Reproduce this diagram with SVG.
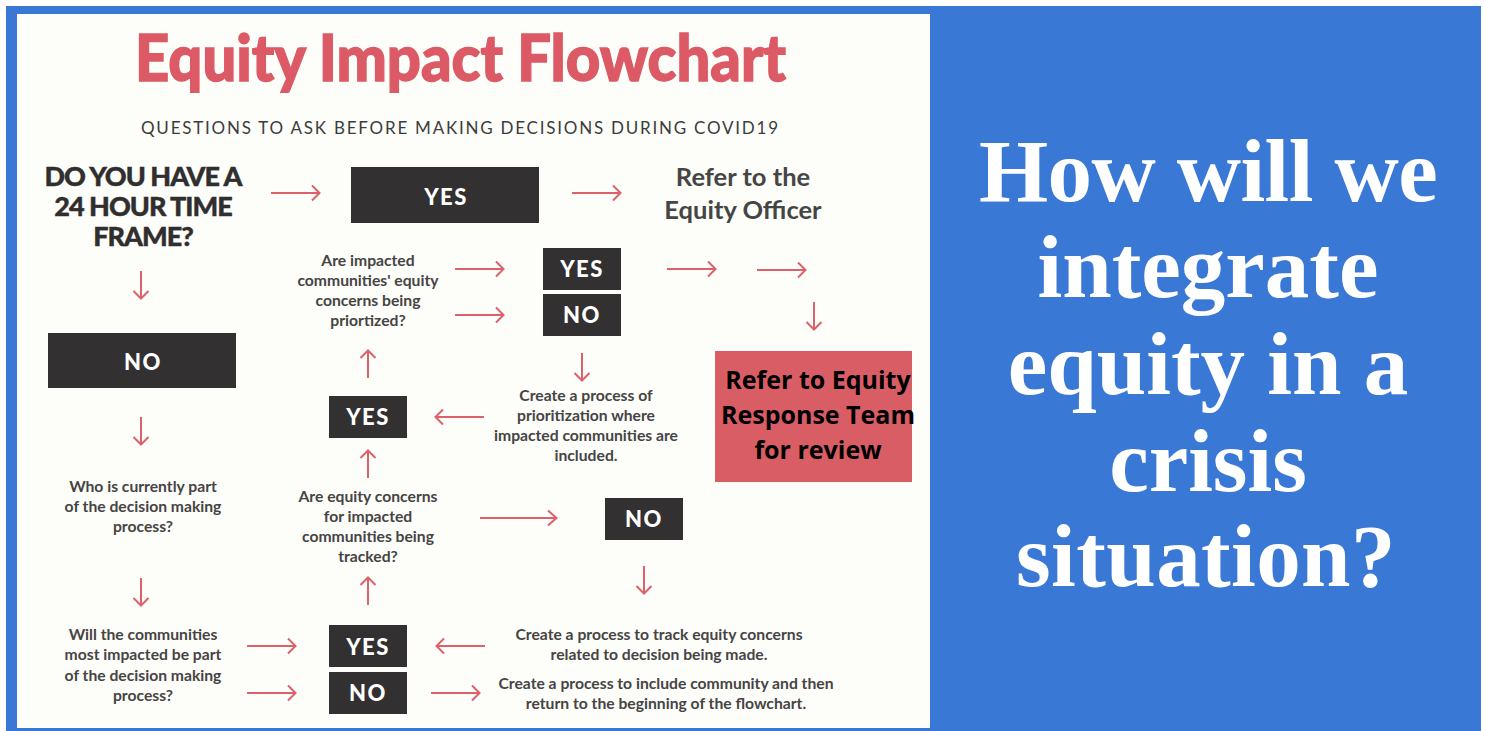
<svg xmlns="http://www.w3.org/2000/svg" width="1485" height="731" viewBox="0 0 1485 731">
<style>
text{text-anchor:middle;font-family:"Lato","Liberation Sans",sans-serif}
.t{font-weight:700;font-size:15.7px;fill:#464444}
.b{fill:#333031}
.bl{font-weight:900;fill:#fff;font-size:22px;letter-spacing:1.5px}
.h{font-weight:900;font-size:27px;fill:#302e2f;letter-spacing:-1px;stroke:#302e2f;stroke-width:.4px}
.r{font-weight:700;font-size:25.500px;fill:#454546}
.e{font-family:"Open Sans","Noto Sans",sans-serif;font-weight:700;font-size:25px;fill:#000}
.q{font-family:"Liberation Serif",serif;font-weight:700;font-size:89px;fill:#fff}
.c{fill:none;stroke:#dc616a;stroke-width:2}
</style>
<defs>
<path id="ar" d="M0 0H48M41 -7.500L48.500 0L41 7.500"/>
<path id="av" d="M0 0H27M20 -7.500L27.500 0L20 7.500"/>
</defs>
<rect width="1485" height="731" fill="#fff"/>
<rect x="6" y="6" width="1475" height="725" fill="#3a78d6"/>
<rect x="17" y="14" width="913" height="714" fill="#fdfdf9"/>
<g id="title">
<text x="460.500" y="81" font-size="64" font-weight="900" fill="#dc5a65" stroke="#dc5a65" stroke-width="1.400" textLength="651" lengthAdjust="spacingAndGlyphs">Equity Impact Flowchart</text>
<text x="459.500" y="134" font-size="17" font-weight="400" fill="#3c3c3c" textLength="637" lengthAdjust="spacing">QUESTIONS TO ASK BEFORE MAKING DECISIONS DURING COVID19</text>
</g>
<g id="connectors" class="c">
<use href="#ar" transform="translate(271 193)"/>
<use href="#ar" transform="translate(572 193)"/>
<use href="#ar" transform="translate(455 269)"/>
<use href="#ar" transform="translate(455 315)"/>
<use href="#ar" transform="translate(667 269)"/>
<use href="#ar" transform="translate(757 270)"/>
<use href="#av" transform="translate(814 302) rotate(90)"/>
<use href="#av" transform="translate(141 271) rotate(90)"/>
<use href="#av" transform="translate(141 417) rotate(90)"/>
<use href="#av" transform="translate(141 578) rotate(90)"/>
<use href="#av" transform="translate(582 353) rotate(90)"/>
<use href="#av" transform="translate(644 566) rotate(90)"/>
<use href="#av" transform="translate(368 378) rotate(-90)"/>
<use href="#av" transform="translate(368 478) rotate(-90)"/>
<use href="#av" transform="translate(368 605) rotate(-90)"/>
<use href="#ar" transform="translate(484 417) rotate(180)"/>
<use href="#ar" transform="translate(485 646) rotate(180)"/>
<path d="M480 518H556M548 510.500L556.500 518L548 525.500"/>
<use href="#ar" transform="translate(247 646)"/>
<use href="#ar" transform="translate(247 693)"/>
<use href="#ar" transform="translate(431 693)"/>
</g>
<g id="q-24h"><text class="h"><tspan x="143" y="186">DO YOU HAVE A</tspan><tspan x="143" y="216">24 HOUR TIME</tspan><tspan x="143" y="246">FRAME?</tspan></text></g>
<g id="yes-top"><rect class="b" x="351" y="167" width="188" height="56"/><text class="bl" x="446" y="205">YES</text></g>
<g id="refer-officer"><text class="r"><tspan x="743" y="186">Refer to the</tspan><tspan x="743" y="219">Equity Officer</tspan></text></g>
<g id="q-prioritized"><text class="t"><tspan x="368" y="266">Are impacted</tspan><tspan x="368" y="286">communities' equity</tspan><tspan x="368" y="306">concerns being</tspan><tspan x="368" y="326">priortized?</tspan></text></g>
<g id="yes-prioritized"><rect class="b" x="543" y="248" width="78" height="42"/><text class="bl" x="582" y="277">YES</text></g>
<g id="no-prioritized"><rect class="b" x="543" y="294" width="78" height="42"/><text class="bl" x="582" y="323">NO</text></g>
<g id="no-24h"><rect class="b" x="48" y="333" width="188" height="55"/><text class="bl" x="143" y="370">NO</text></g>
<g id="refer-team"><rect x="715" y="351" width="197" height="131" fill="#d95d65"/><text class="e"><tspan x="818" y="389">Refer to Equity</tspan><tspan x="818" y="424">Response Team</tspan><tspan x="818" y="459">for review</tspan></text></g>
<g id="yes-middle"><rect class="b" x="329" y="396" width="78" height="42"/><text class="bl" x="368" y="425">YES</text></g>
<g id="create-prioritization"><text class="t"><tspan x="586" y="401">Create a process of</tspan><tspan x="586" y="421">prioritization where</tspan><tspan x="586" y="441">impacted communities are</tspan><tspan x="586" y="461">included.</tspan></text></g>
<g id="q-who"><text class="t"><tspan x="143" y="492">Who is currently part</tspan><tspan x="143" y="512">of the decision making</tspan><tspan x="143" y="532">process?</tspan></text></g>
<g id="q-tracked"><text class="t"><tspan x="368" y="502">Are equity concerns</tspan><tspan x="368" y="522">for impacted</tspan><tspan x="368" y="542">communities being</tspan><tspan x="368" y="562">tracked?</tspan></text></g>
<g id="no-tracked"><rect class="b" x="605" y="498" width="78" height="42"/><text class="bl" x="644" y="527">NO</text></g>
<g id="q-impacted"><text class="t"><tspan x="143" y="640">Will the communities</tspan><tspan x="143" y="660">most impacted be part</tspan><tspan x="143" y="681">of the decision making</tspan><tspan x="143" y="701">process?</tspan></text></g>
<g id="yes-bottom"><rect class="b" x="329" y="625" width="78" height="42"/><text class="bl" x="368" y="655">YES</text></g>
<g id="no-bottom"><rect class="b" x="329" y="672" width="78" height="42"/><text class="bl" x="368" y="701">NO</text></g>
<g id="create-track"><text class="t"><tspan x="659" y="640">Create a process to track equity concerns</tspan><tspan x="659" y="660">related to decision being made.</tspan></text></g>
<g id="create-include"><text class="t"><tspan x="666" y="689">Create a process to include community and then</tspan><tspan x="666" y="709">return to the beginning of the flowchart.</tspan></text></g>
<g id="question"><text class="q"><tspan x="1208" y="201" letter-spacing="-.6">How will we</tspan><tspan x="1208" y="297">integrate</tspan><tspan x="1208" y="394">equity in a</tspan><tspan x="1208" y="491">crisis</tspan><tspan x="1206" y="586" letter-spacing=".4">situation?</tspan></text></g>
</svg>
